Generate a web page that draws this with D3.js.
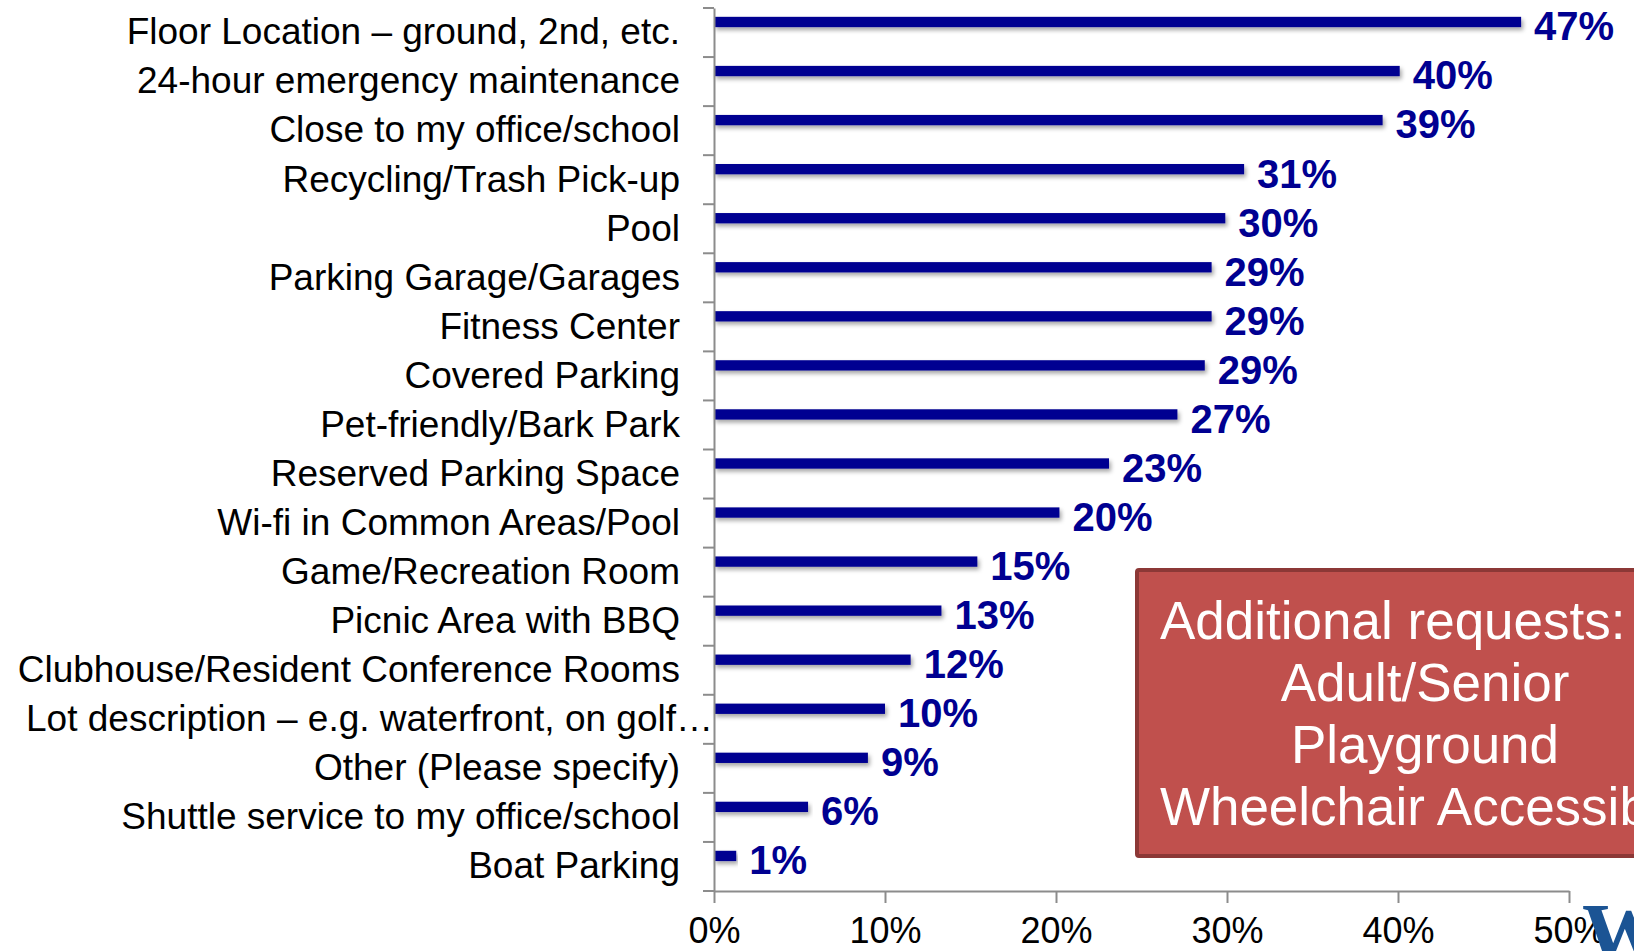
<!DOCTYPE html>
<html>
<head>
<meta charset="utf-8">
<script src="https://cdn.jsdelivr.net/npm/d3@7"></script>
<style>
  body { margin: 0; background: #fff; }
  svg { display: block; font-family: "Liberation Sans", Arial, sans-serif; }
</style>
</head>
<body>
<div id="chart"></div>
<script>
// categories, top to bottom
const categories = [
  "Floor Location – ground, 2nd, etc.",
  "24-hour emergency maintenance",
  "Close to my office/school",
  "Recycling/Trash Pick-up",
  "Pool",
  "Parking Garage/Garages",
  "Fitness Center",
  "Covered Parking",
  "Pet-friendly/Bark Park",
  "Reserved Parking Space",
  "Wi-fi in Common Areas/Pool",
  "Game/Recreation Room",
  "Picnic Area with BBQ",
  "Clubhouse/Resident Conference Rooms",
  "Lot description – e.g. waterfront, on golf…",
  "Other (Please specify)",
  "Shuttle service to my office/school",
  "Boat Parking"
];

// percent values
const values = [47.2, 40.1, 39.1, 31.0, 29.9, 29.1, 29.1, 28.7, 27.1, 23.1, 20.2, 15.4, 13.3, 11.5, 10.0, 9.0, 5.5, 1.3];

// labels printed next to bars
const valueLabels = ["47%", "40%", "39%", "31%", "30%", "29%", "29%", "29%", "27%", "23%", "20%", "15%", "13%", "12%", "10%", "9%", "6%", "1%"];

const xTicks = [0, 10, 20, 30, 40, 50];

const noteLines = ["Additional requests:", "Adult/Senior", "Playground", "Wheelchair Accessible"];

const width = 1634;
const height = 951;
const margin = { top: 8, bottom: 60, left: 714, right: 65 };

const svg = d3.select("#chart")
  .append("svg")
  .attr("width", width)
  .attr("height", height)
  .attr("viewBox", [0, 0, width, height]);

// drop shadow for the bars
const defs = svg.append("defs");
const shadow = defs.append("filter").attr("id", "shadow")
  .attr("x", "-5%").attr("y", "-50%").attr("width", "110%").attr("height", "250%");
shadow.append("feDropShadow")
  .attr("dx", 2).attr("dy", 3).attr("stdDeviation", 2)
  .attr("flood-color", "#000").attr("flood-opacity", 0.35);

const x = d3.scaleLinear()
  .domain([0, 50])
  .range([margin.left, width - margin.right]);

const y = d3.scaleBand()
  .domain(categories)
  .range([margin.top, height - margin.bottom]);

const barOffset = y.bandwidth() * 0.18;
const barH = y.bandwidth() * 0.21;

// bars
svg.append("g")
  .selectAll("rect")
  .data(categories)
  .join("rect")
  .attr("x", x(0))
  .attr("y", d => y(d) + barOffset)
  .attr("width", (d, i) => x(values[i]) - x(0))
  .attr("height", barH)
  .attr("fill", "#000091")
  .attr("filter", "url(#shadow)");

// value labels
svg.append("g")
  .selectAll("text")
  .data(categories)
  .join("text")
  .attr("x", (d, i) => x(values[i]) + 13)
  .attr("y", d => y(d) + barOffset + barH / 2 + 4)
  .attr("dy", "0.36em")
  .attr("font-size", "40px")
  .attr("font-weight", "bold")
  .attr("fill", "#000091")
  .text((d, i) => valueLabels[i]);

// category axis
const yAxis = svg.append("g")
  .attr("transform", `translate(${margin.left},0)`)
  .call(d3.axisLeft(y).tickSize(0).tickPadding(34));
yAxis.select(".domain").attr("stroke", "#8c8c8c").attr("stroke-width", 2);
yAxis.selectAll("text")
  .attr("font-size", "37px")
  .attr("fill", "#000")
  .attr("font-family", "Liberation Sans, Arial, sans-serif")
  // the truncated label runs past the others, as in the original
  .attr("dx", d => d.endsWith("…") ? 33 : 0);

// tick marks at band edges
const edges = categories.map(d => y(d)).concat([y.range()[1]]);
svg.append("g")
  .selectAll("line")
  .data(edges)
  .join("line")
  .attr("x1", margin.left - 11)
  .attr("x2", margin.left)
  .attr("y1", d => d)
  .attr("y2", d => d)
  .attr("stroke", "#8c8c8c")
  .attr("stroke-width", 2);

// value axis
const xAxis = svg.append("g")
  .attr("transform", `translate(0,${height - margin.bottom})`)
  .call(d3.axisBottom(x).tickValues(xTicks).tickFormat(d => d + "%").tickSize(12).tickPadding(14).tickSizeOuter(0));
xAxis.select(".domain").attr("stroke", "#8c8c8c").attr("stroke-width", 2);
xAxis.selectAll(".tick line").attr("stroke", "#8c8c8c").attr("stroke-width", 2);
xAxis.selectAll("text")
  .attr("font-size", "36px")
  .attr("fill", "#000")
  .attr("font-family", "Liberation Sans, Arial, sans-serif");

// note box
const note = svg.append("g");
note.append("rect")
  .attr("x", 1137)
  .attr("y", 570)
  .attr("width", 600)
  .attr("height", 286)
  .attr("rx", 2)
  .attr("fill", "#c0504d")
  .attr("stroke", "#8c3836")
  .attr("stroke-width", 4);
note.selectAll("text")
  .data(noteLines)
  .join("text")
  .attr("x", (d, i) => i === 0 ? 1160 : 1425)
  .attr("y", (d, i) => 639 + i * 62)
  .attr("text-anchor", (d, i) => i === 0 ? "start" : "middle")
  .attr("font-size", "53px")
  .attr("fill", "#fff")
  .text(d => d);

// logo fragment
svg.append("text")
  .attr("x", 1582)
  .attr("y", 962)
  .attr("font-family", "Liberation Serif, serif")
  .attr("font-weight", "bold")
  .attr("font-size", "84px")
  .attr("fill", "#1b5494")
  .text("W");
</script>
</body>
</html>
